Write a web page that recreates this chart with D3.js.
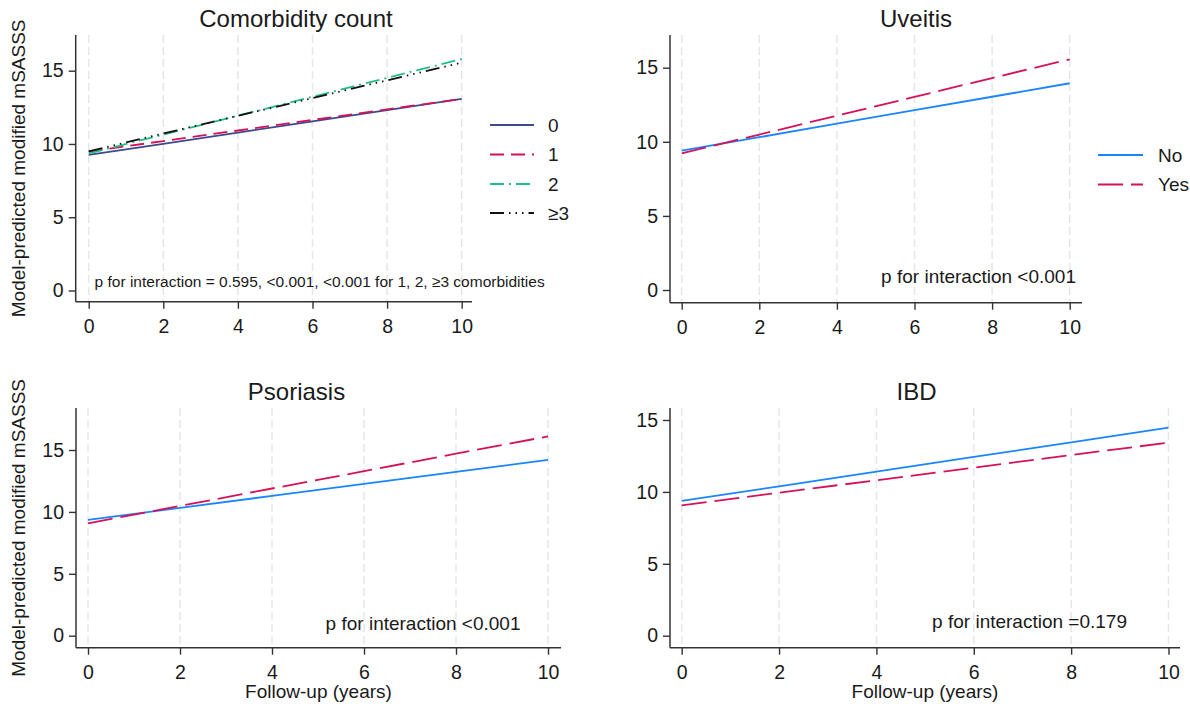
<!DOCTYPE html>
<html>
<head>
<meta charset="utf-8">
<script src="https://cdn.jsdelivr.net/npm/d3@7"></script>
<style>
  body { margin: 0; background: #fff; }
  text { font-family: "Liberation Sans", Arial, sans-serif; fill: #1a1a1a; }
  .tick line { stroke: #333; stroke-width: 1.4; }
  .grid { stroke: #e6e6e6; stroke-width: 1.5; stroke-dasharray: 8,4; }
  .frame { stroke: #333; stroke-width: 1.5; }
</style>
</head>
<body>
<div id="wrapper"></div>
<script>
// 1. Data

const years = [0, 2, 4, 6, 8, 10];
const xTicks = [0, 2, 4, 6, 8, 10];
const yTicks = [0, 5, 10, 15];

const comorbidityLabels = ["0", "1", "2", "\u22653"];
const comorbidity0 = [9.25, 10.01, 10.78, 11.54, 12.31, 13.07];
const comorbidity1 = [9.48, 10.20, 10.92, 11.64, 12.36, 13.08];
const comorbidity2 = [9.35, 10.64, 11.93, 13.22, 14.51, 15.80];
const comorbidity3 = [9.50, 10.71, 11.92, 13.13, 14.34, 15.55];

const noYesLabels = ["No", "Yes"];
const uveitisNo = [9.40, 10.31, 11.22, 12.13, 13.04, 13.95];
const uveitisYes = [9.22, 10.49, 11.76, 13.03, 14.30, 15.57];
const psoriasisNo = [9.35, 10.32, 11.29, 12.26, 13.23, 14.20];
const psoriasisYes = [9.08, 10.48, 11.89, 13.29, 14.70, 16.10];
const ibdNo = [9.37, 10.39, 11.41, 12.43, 13.45, 14.47];
const ibdYes = [9.07, 9.94, 10.81, 11.69, 12.56, 13.43];

const yTitle = "Model-predicted modified mSASSS";
const xTitle = "Follow-up (years)";

// 2. Styles and layout

const comorbidityStyles = [
  { color: "#3b4a8d", dash: null },
  { color: "#d41159", dash: "14,7" },
  { color: "#1fbf86", dash: "14,5,2,5" },
  { color: "#111111", dash: "14,5,1.5,5,1.5,5,1.5,5" },
];
const noYesStyles = [
  { color: "#1a85ff", dash: null },
  { color: "#d41159", dash: "25,8" },
];

const panels = [
  {
    title: "Comorbidity count", titleX: 296, titleY: 27,
    series: [comorbidity0, comorbidity1, comorbidity2, comorbidity3], styles: comorbidityStyles,
    left: 75.7, right: 472, top: 35, bottom: 301.7,
    x0: 88.7, x10: 461.7, y0: 290.5, y15: 70.7,
    pText: "p for interaction = 0.595, <0.001, <0.001 for 1, 2, \u22653 comorbidities",
    pX: 544.7, pY: 287, pSize: 15.5,
    legend: { labels: comorbidityLabels, x1: 490, x2: 534, tx: 548, ys: [125, 154.5, 184, 213] },
    yTitle: true, xTitle: false,
  },
  {
    title: "Uveitis", titleX: 916, titleY: 27,
    series: [uveitisNo, uveitisYes], styles: noYesStyles,
    left: 670, right: 1082, top: 35, bottom: 302.7,
    x0: 681.7, x10: 1069.7, y0: 290, y15: 67.7,
    pText: "p for interaction <0.001", pX: 1076, pY: 283, pSize: 19,
    legend: { labels: noYesLabels, x1: 1098, x2: 1143, tx: 1158, ys: [155, 184.5] },
    yTitle: false, xTitle: false,
  },
  {
    title: "Psoriasis", titleX: 296.5, titleY: 400,
    series: [psoriasisNo, psoriasisYes], styles: noYesStyles,
    left: 76, right: 561, top: 408, bottom: 647.7,
    x0: 88, x10: 548, y0: 635.7, y15: 450,
    pText: "p for interaction <0.001", pX: 520.5, pY: 630, pSize: 19,
    legend: null,
    yTitle: true, xTitle: true,
  },
  {
    title: "IBD", titleX: 916.5, titleY: 400,
    series: [ibdNo, ibdYes], styles: noYesStyles,
    left: 670, right: 1180, top: 408, bottom: 647.7,
    x0: 681.7, x10: 1168.5, y0: 635.7, y15: 420,
    pText: "p for interaction =0.179", pX: 1127, pY: 628, pSize: 19,
    legend: null,
    yTitle: false, xTitle: true,
  },
];

// 3. Draw canvas

const svg = d3.select("#wrapper")
  .append("svg")
    .attr("width", 1190)
    .attr("height", 710);

const line = (xScale, yScale) => d3.line()
  .x((d, i) => xScale(years[i]))
  .y(d => yScale(d));

panels.forEach(p => {
  const g = svg.append("g");

  const xScale = d3.scaleLinear().domain([0, 10]).range([p.x0, p.x10]);
  const yScale = d3.scaleLinear().domain([0, 15]).range([p.y0, p.y15]);

  // vertical dashed grid
  g.selectAll(".grid")
    .data(xTicks)
    .join("line")
      .attr("class", "grid")
      .attr("x1", d => xScale(d))
      .attr("x2", d => xScale(d))
      .attr("y1", p.top)
      .attr("y2", p.bottom);

  // axes
  const yAxis = g.append("g")
      .attr("transform", `translate(${p.left},0)`)
      .call(d3.axisLeft(yScale).tickValues(yTicks).tickSize(7).tickPadding(5));
  yAxis.select(".domain").remove();
  yAxis.selectAll("text").style("font-size", "19.5px").attr("fill", "#1a1a1a");

  const xAxis = g.append("g")
      .attr("transform", `translate(0,${p.bottom})`)
      .call(d3.axisBottom(xScale).tickValues(xTicks).tickSize(7).tickPadding(10));
  xAxis.select(".domain").remove();
  xAxis.selectAll("text").style("font-size", "19.5px").attr("fill", "#1a1a1a");

  g.append("line").attr("class", "frame")
      .attr("x1", p.left).attr("x2", p.left)
      .attr("y1", p.top).attr("y2", p.bottom);
  g.append("line").attr("class", "frame")
      .attr("x1", p.left).attr("x2", p.right)
      .attr("y1", p.bottom).attr("y2", p.bottom);

  // series
  g.selectAll(".series")
    .data(p.series)
    .join("path")
      .attr("class", "series")
      .attr("fill", "none")
      .attr("stroke", (d, i) => p.styles[i].color)
      .attr("stroke-width", 1.8)
      .attr("stroke-dasharray", (d, i) => p.styles[i].dash)
      .attr("d", line(xScale, yScale));

  // title
  g.append("text")
      .attr("x", p.titleX)
      .attr("y", p.titleY)
      .attr("text-anchor", "middle")
      .style("font-size", "24px")
      .text(p.title);

  // p for interaction note
  g.append("text")
      .attr("x", p.pX)
      .attr("y", p.pY)
      .attr("text-anchor", "end")
      .style("font-size", `${p.pSize}px`)
      .text(p.pText);

  if (p.yTitle) {
    g.append("text")
        .attr("transform", `translate(25,${(p.top + p.bottom) / 2}) rotate(-90)`)
        .attr("text-anchor", "middle")
        .style("font-size", "19px")
        .text(yTitle);
  }
  if (p.xTitle) {
    g.append("text")
        .attr("x", (p.left + p.right) / 2)
        .attr("y", 698)
        .attr("text-anchor", "middle")
        .style("font-size", "19px")
        .text(xTitle);
  }

  if (p.legend) {
    const lg = p.legend;
    const items = g.selectAll(".legend-item")
      .data(lg.labels)
      .join("g")
        .attr("class", "legend-item")
        .attr("transform", (d, i) => `translate(0,${lg.ys[i]})`);
    items.append("line")
        .attr("x1", lg.x1).attr("x2", lg.x2)
        .attr("stroke", (d, i) => p.styles[i].color)
        .attr("stroke-width", 1.8)
        .attr("stroke-dasharray", (d, i) => p.styles[i].dash);
    items.append("text")
        .attr("x", lg.tx)
        .attr("dy", "0.35em")
        .style("font-size", "19px")
        .text(d => d);
  }
});
</script>
</body>
</html>
